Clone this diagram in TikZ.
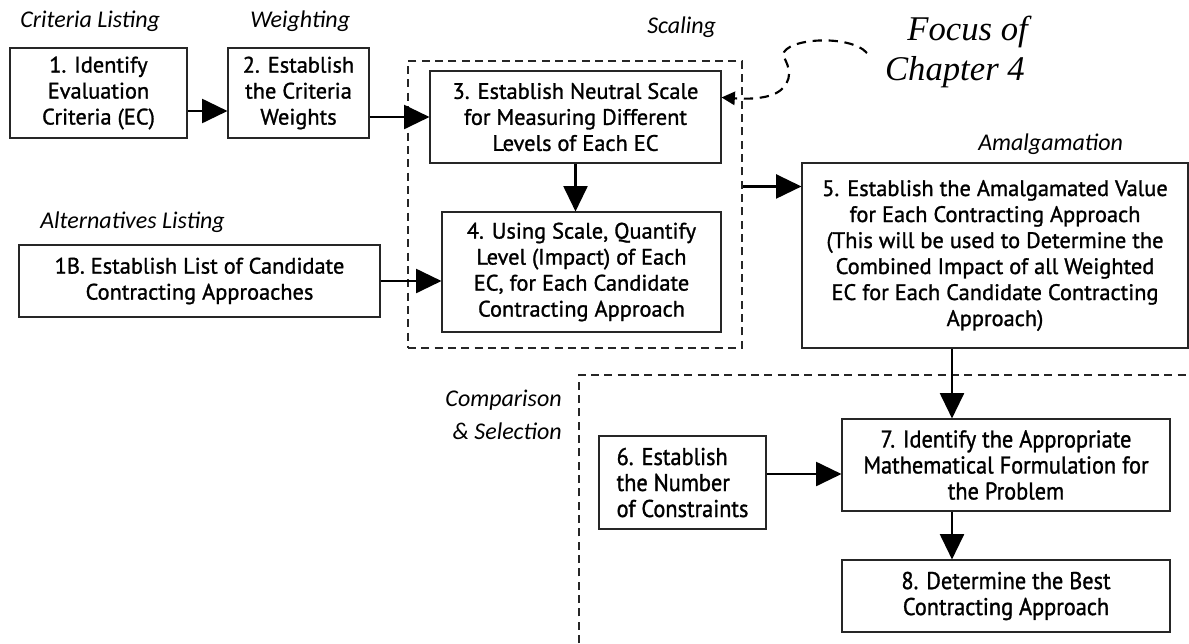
\documentclass[tikz,border=0pt]{standalone}
\usepackage{fontspec}
\setmainfont{PT Sans}
\newfontfamily\boxfamily[FakeBold=1.2]{PT Sans}
\newfontfamily\condfamily[FakeBold=1.2,FakeStretch=0.92]{PT Sans}
\newfontfamily\lblfamily{Carlito}
\newfontfamily\focusfamily{Liberation Serif}
\usetikzlibrary{arrows.meta,calc}
\begin{document}
\begin{tikzpicture}[x=0.75pt,y=-0.75pt,
  box/.style={draw=black!85, line width=0.8pt, inner sep=0pt, align=center,
    font=\boxfamily\fontsize{16.8pt}{19.5pt}\selectfont},
  boxb/.style={box, font=\condfamily\fontsize{18.2pt}{19.5pt}\selectfont},
  arr/.style={line width=1.6pt, -{Triangle[length=19pt,width=18pt]}},
  lbl/.style={font=\lblfamily\itshape\fontsize{18pt}{20pt}\selectfont, inner sep=0pt},
  focuslbl/.style={font=\focusfamily\itshape\fontsize{26pt}{30pt}\selectfont, inner sep=0pt},
  dbox/.style={draw=black!85, line width=0.8pt, dash pattern=on 6pt off 4pt},
  curvearr/.style={line width=1.6pt, dash pattern=on 7pt off 5pt, -{Triangle[length=10pt,width=10pt]}}]
\useasboundingbox (0,0) rectangle (1189,643);

% labels
\node[lbl, anchor=base west] (lcrit) at (20,27) {Criteria Listing};
\node[lbl, anchor=base west] (lweight) at (250,27) {Weighting};
\node[lbl, anchor=base west] (lscal) at (647,33) {Scaling};
\node[lbl, anchor=base west] (lamal) at (978,150) {Amalgamation};
\node[lbl, anchor=base west] (lalt) at (40,228) {Alternatives Listing};
\node[lbl, anchor=base east] (lcomp) at (562,406) {Comparison};
\node[lbl, anchor=base east] (lsel) at (562,439) {\& Selection};
\node[focuslbl, anchor=base east] (focus1) at (1028,40) {Focus of};
\node[focuslbl, anchor=base east] (focus2) at (1025,80) {Chapter 4};

% dashed groups
\node[dbox, minimum width=334*0.75pt, minimum height=287*0.75pt, inner sep=0pt] (scal) at (575,204.5) {};
\coordinate (cmpcorner) at (579,375);
\coordinate (cmpbottom) at (579,643);
\coordinate (cmpright) at (1189,375);
\draw[dbox] (cmpbottom) -- (cmpcorner) -- (cmpright);

% boxes
\node[box, minimum width=177*0.75pt, minimum height=90*0.75pt] (b1) at (98.5,93) {1. Identify\\Evaluation\\Criteria (EC)};
\node[box, minimum width=141*0.75pt, minimum height=90*0.75pt] (b2) at (298.5,93) {2. Establish\\the Criteria\\Weights};
\node[box, minimum width=291*0.75pt, minimum height=92*0.75pt] (b3) at (575.5,117) {3. Establish Neutral Scale\\for Measuring Different\\Levels of Each EC};
\node[box, minimum width=279*0.75pt, minimum height=120*0.75pt] (b4) at (581.5,272) {4. Using Scale, Quantify\\Level (Impact) of Each\\EC, for Each Candidate\\Contracting Approach};
\node[box, minimum width=361*0.75pt, minimum height=72*0.75pt] (b1b) at (199.5,281) {1B. Establish List of Candidate\\Contracting Approaches};
\node[box, minimum width=386*0.75pt, minimum height=185*0.75pt] (b5) at (995,255.5) {5. Establish the Amalgamated Value\\for Each Contracting Approach\\(This will be used to Determine the\\Combined Impact of all Weighted\\EC for Each Candidate Contracting\\Approach)};
\node[boxb, minimum width=167*0.75pt, minimum height=93*0.75pt, align=left] (b6) at (682.5,482.5) {6. Establish\\the Number\\of Constraints};
\node[boxb, minimum width=328*0.75pt, minimum height=92*0.75pt] (b7) at (1006,465) {7. Identify the Appropriate\\Mathematical Formulation for\\the Problem};
\node[boxb, minimum width=328*0.75pt, minimum height=72*0.75pt] (b8) at (1006,596) {8. Determine the Best\\Contracting Approach};

% connectors
\draw[arr] ([yshift=-13.5pt]b1.east) -- ([yshift=-13.5pt]b2.west);
\draw[arr] (b2.east |- b3.west) -- (b3.west);
\draw[arr] (b3.south) -- (b3.south |- b4.north);
\draw[arr] (b1b.east) -- (b1b.east -| b4.west);
\coordinate (in5) at ([yshift=-18pt]b5.north west);
\draw[arr] (scal.east |- in5) -- (in5);
\coordinate (colx) at (952,0);
\draw[arr] (b5.south -| colx) -- (b7.north -| colx);
\draw[arr] (b7.south -| colx) -- (b8.north -| colx);
\coordinate (row6) at (0,474);
\draw[arr] (b6.east |- row6) -- (b7.west |- row6);

% focus curve
\coordinate (fstart) at (867,53);
\coordinate (p3) at ($(b3.north east)!0.29!(b3.south east)$);
\draw[curvearr] (fstart) .. controls (850,34) and (785,38) .. (783,55)
  .. controls (786,62) and (795,75) .. (783,88)
  .. controls (772,100) and (745,99) .. (p3);
\end{tikzpicture}
\end{document}
